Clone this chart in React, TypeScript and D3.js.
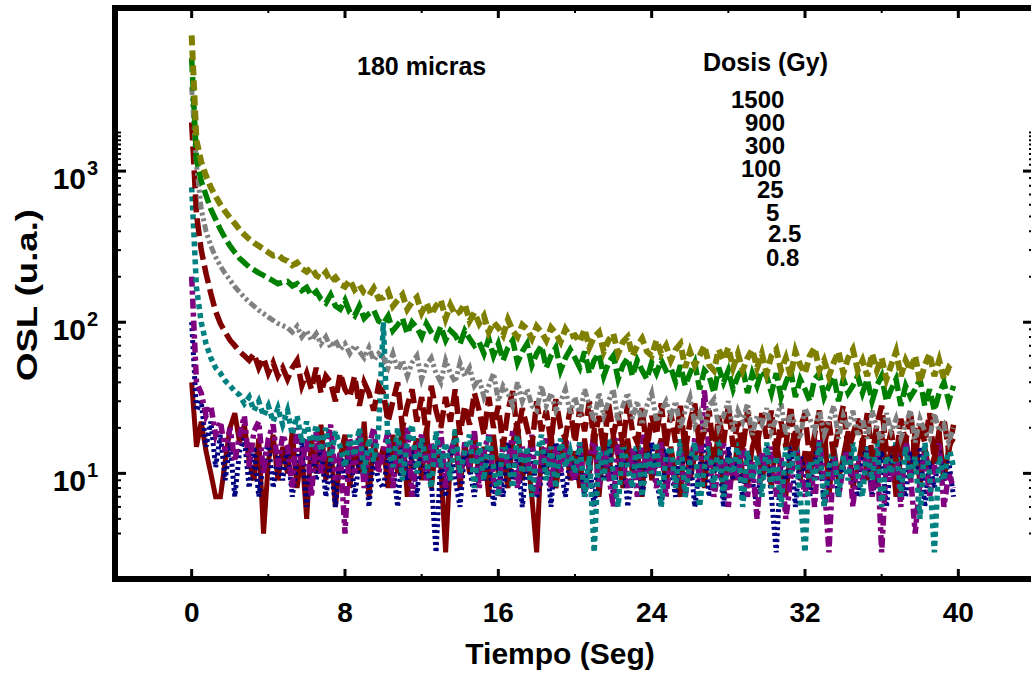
import React from "react";
import * as d3 from "d3";

// sampling interval of the OSL decay curves (s)
const timeStep = 0.25;

// OSL intensity (u.a.) for each dose, one value per time step
const dose1500 = [
  7900, 1600, 1150, 930, 780, 680, 600, 540, 490, 450, 410, 380, 355, 335, 320, 305, 290, 276, 280, 262,
  254, 238, 248, 226, 216, 230, 204, 196, 214, 186, 198, 178, 172, 190, 164, 176, 156, 150, 168, 144,
  146, 160, 128, 140, 152, 122, 136, 146, 116, 134, 112, 128, 140, 106, 130, 112, 118, 132, 102, 116,
  98, 110, 86, 100, 92, 82, 104, 88, 80, 96, 90, 78, 94, 86, 76, 92, 84, 74, 90, 80,
  82, 74, 90, 68, 80, 86, 64, 76, 84, 62, 74, 80, 60, 70, 78, 64, 60, 76, 62, 70,
  56, 66, 72, 50, 64, 52, 60, 70, 52, 48, 66, 56, 68, 50, 62, 48, 58, 66, 50, 62,
  46, 60, 66, 48, 58, 44, 64, 52, 46, 60, 68, 48, 56, 44, 54, 64, 46, 58, 66, 48,
  56, 44, 62, 48, 58, 42, 52, 64, 44, 56, 48, 60, 40, 52, 62, 44, 56, 42, 50, 46,
];
const dose900 = [
  5600, 1200, 860, 690, 560, 480, 410, 360, 320, 290, 265, 248, 232, 222, 212, 204, 196, 188, 180, 184,
  186, 174, 180, 162, 170, 150, 160, 142, 134, 152, 128, 122, 140, 116, 110, 128, 106, 114, 120, 102,
  98, 110, 88, 96, 106, 84, 100, 92, 80, 98, 86, 78, 94, 76, 88, 82, 72, 88, 78, 70,
  74, 62, 78, 60, 72, 56, 68, 76, 54, 64, 72, 52, 62, 70, 50, 60, 68, 48, 58, 66,
  58, 50, 64, 46, 56, 62, 44, 54, 60, 42, 52, 58, 44, 56, 48, 42, 54, 46, 56, 48,
  50, 40, 52, 38, 46, 54, 36, 48, 44, 34, 50, 40, 48, 36, 44, 50, 34, 46, 38, 48,
  44, 34, 46, 32, 40, 48, 32, 42, 36, 30, 42, 46, 32, 38, 44, 30, 42, 34, 38, 44,
  34, 42, 30, 38, 44, 30, 36, 42, 28, 38, 32, 36, 42, 28, 36, 26, 34, 40, 30, 38,
];
const dose300 = [
  3600, 1100, 560, 400, 320, 270, 235, 210, 190, 172, 158, 146, 136, 128, 120, 114, 108, 103, 98, 95,
  92, 86, 94, 80, 88, 76, 84, 72, 80, 68, 76, 66, 72, 62, 70, 64, 58, 68, 56, 62,
  58, 50, 62, 48, 56, 44, 54, 60, 42, 52, 58, 46, 40, 56, 46, 40, 54, 44, 50, 38,
  42, 32, 38, 46, 30, 38, 34, 28, 40, 30, 36, 28, 26, 38, 28, 34, 26, 30, 36, 25,
  32, 24, 36, 28, 22, 34, 24, 30, 36, 22, 28, 34, 23, 30, 21, 28, 34, 22, 26, 30,
  24, 30, 20, 26, 32, 21, 25, 19, 28, 31, 20, 24, 30, 19, 26, 22, 29, 18, 24, 21,
  27, 19, 23, 29, 18, 25, 21, 17, 27, 23, 19, 26, 18, 22, 28, 17, 24, 20, 26, 18,
  23, 17, 26, 20, 16, 25, 19, 23, 17, 21, 26, 16, 23, 19, 17, 25, 19, 21, 16, 20,
];
const dose100 = [
  2100, 520, 300, 210, 155, 118, 98, 86, 76, 70, 64, 60, 56, 62, 50, 58, 46, 54, 44, 50,
  42, 50, 56, 38, 46, 36, 50, 34, 44, 40, 30, 46, 36, 32, 44, 28, 40, 34, 26, 38,
  34, 22, 30, 40, 20, 28, 36, 22, 32, 18, 38, 26, 20, 32, 22, 36, 18, 28, 21, 34,
  26, 18, 32, 20, 28, 15, 26, 35, 18, 27, 20, 15, 30, 19, 26, 16, 31, 20, 17, 27,
  16, 27, 19, 30, 16, 24, 14, 29, 18, 25, 15, 30, 19, 16, 27, 14, 24, 18, 29, 15,
  25, 16, 28, 14, 22, 29, 15, 19, 26, 13, 24, 16, 28, 15, 22, 14, 26, 18, 15, 25,
  17, 26, 13, 22, 15, 28, 14, 20, 25, 12, 18, 26, 15, 22, 13, 20, 28, 14, 18, 23,
  15, 25, 13, 21, 28, 14, 19, 12, 23, 16, 26, 13, 21, 16, 25, 12, 19, 23, 14, 21,
];
const dose25 = [
  780, 170, 100, 72, 58, 50, 46, 41, 38, 35, 33, 29, 32, 26, 30, 24, 28, 22, 27, 21,
  26, 18, 24, 16, 22, 15, 21, 14, 20, 12, 19, 15, 11, 18, 13, 20, 10, 17, 12, 19,
  100, 15, 11, 20, 9, 16, 21, 10, 17, 12, 8, 19, 11, 16, 9, 20, 10, 14, 18, 8,
  16, 9, 18, 11, 7, 17, 12, 8, 19, 10, 15, 7, 13, 18, 9, 15, 8, 17, 11, 14,
  10, 16, 7, 13, 3, 15, 9, 17, 10, 6, 16, 11, 8, 18, 7, 14, 10, 16, 6, 13,
  15, 8, 17, 7, 12, 16, 6, 11, 15, 8, 17, 7, 13, 10, 16, 6, 14, 9, 13, 7,
  16, 8, 13, 6, 15, 10, 17, 7, 3, 13, 9, 16, 6, 11, 15, 7, 13, 9, 16, 10,
  7, 15, 9, 17, 6, 13, 10, 16, 7, 15, 9, 13, 5, 16, 10, 3, 13, 9, 15, 11,
];
const dose5 = [
  200, 40, 34, 24, 28, 18, 22, 14, 20, 12, 18, 24, 11, 19, 22, 10, 17, 21, 11, 18,
  15, 8, 20, 11, 17, 7, 19, 10, 15, 21, 9, 14, 4, 17, 10, 19, 8, 15, 20, 10,
  14, 19, 8, 16, 11, 20, 7, 14, 18, 9, 16, 11, 19, 8, 14, 17, 9, 16, 11, 19,
  8, 14, 18, 9, 7, 16, 11, 19, 8, 15, 10, 18, 7, 12, 17, 8, 15, 10, 18, 11,
  9, 16, 7, 12, 18, 8, 15, 10, 6, 17, 12, 8, 15, 7, 18, 10, 13, 8, 16, 7,
  13, 8, 15, 7, 11, 17, 9, 36, 13, 7, 11, 16, 6, 13, 9, 17, 7, 12, 5, 14,
  10, 15, 7, 13, 5, 9, 16, 11, 7, 14, 6, 17, 9, 3, 14, 7, 11, 16, 6, 13,
  9, 14, 7, 15, 3, 12, 9, 14, 6, 17, 10, 4, 9, 14, 7, 11, 16, 6, 10, 8,
];
const dose2p5 = [
  100, 26, 30, 15, 22, 11, 18, 9, 16, 7, 14, 17, 8, 15, 7, 12, 16, 8, 13, 9,
  15, 7, 12, 16, 6, 13, 9, 15, 7, 12, 6, 14, 9, 16, 7, 12, 15, 6, 13, 9,
  8, 13, 11, 6, 15, 9, 14, 7, 16, 10, 9, 3, 13, 7, 15, 9, 6, 14, 11, 7,
  13, 9, 15, 6, 12, 7, 16, 9, 13, 6, 12, 15, 7, 9, 14, 6, 16, 11, 7, 13,
  9, 15, 7, 12, 6, 14, 9, 16, 7, 12, 15, 6, 10, 14, 7, 12, 16, 9, 6, 13,
  11, 7, 15, 9, 13, 6, 11, 16, 7, 10, 14, 6, 15, 9, 12, 7, 14, 9, 6, 12,
  14, 7, 3, 12, 9, 15, 6, 13, 10, 7, 12, 16, 6, 10, 14, 7, 12, 15, 9, 7,
  12, 15, 7, 10, 14, 6, 12, 16, 9, 7, 14, 10, 15, 6, 12, 8, 14, 9, 12, 7,
];
const dose0p8 = [
  40, 15, 22, 14, 10, 7, 7, 12, 20, 25, 16, 21, 12, 9, 17, 4, 12, 18, 9, 15,
  10, 19, 8, 14, 5, 17, 10, 21, 9, 16, 6, 13, 18, 8, 15, 10, 22, 7, 16, 11,
  15, 8, 18, 10, 21, 7, 13, 17, 9, 20, 8, 15, 11, 3, 13, 18, 8, 16, 10, 19,
  9, 15, 7, 18, 10, 13, 8, 16, 22, 9, 14, 7, 3, 15, 10, 19, 8, 13, 17, 9,
  14, 8, 17, 10, 20, 7, 15, 9, 18, 13, 8, 17, 10, 15, 7, 19, 9, 13, 17, 8,
  15, 10, 7, 19, 9, 13, 17, 8, 16, 10, 21, 7, 14, 9, 17, 10, 8, 15, 19, 9,
  13, 8, 17, 10, 7, 15, 19, 9, 14, 8, 17, 10, 22, 7, 15, 9, 13, 19, 8, 11,
  17, 9, 13, 8, 19, 10, 15, 7, 13, 18, 9, 20, 8, 15, 10, 13, 19, 9, 15, 17,
];

const doseLabels = ["1500", "900", "300", "100", "25", "5", "2.5", "0.8"];
const xTickValues = [0, 8, 16, 24, 32, 40];
const xMinorTickValues = [4, 12, 20, 28, 36];
const yMajorTickValues = [10, 100, 1000];
const yTickExponents = ["1", "2", "3"];
const yMinorTickValues = [
  4, 5, 6, 7, 8, 9, 20, 30, 40, 50, 60, 70, 80, 90,
  200, 300, 400, 500, 600, 700, 800, 900, 1100, 1200, 1300, 1400, 1500, 1600, 1700, 1800,
];

const W = 1031;
const H = 675;
const LEFT = 115;
const RIGHT = 1035;
const TOP = 8;
const BOTTOM = 579;
const FONT = "'Liberation Sans', Arial, Helvetica, sans-serif";

// legend text placement (x start, baseline)
const legendPlacement: [number, number][] = [
  [731, 108], [745, 131], [745, 154], [741, 177], [757, 198], [766, 221], [768, 242], [766, 266],
];

export default function App() {
  const x = d3.scaleLinear().domain([-4, 44]).range([LEFT, RIGHT]);
  const y = d3.scaleLog().domain([2, 12000]).range([BOTTOM, TOP]);
  const line = d3
    .line<number>()
    .x((_, i) => x(i * timeStep))
    .y((d) => y(d));

  const series = [
    { values: dose0p8, color: "#800000", dash: undefined as string | undefined, width: 5 },
    { values: dose2p5, color: "#000080", dash: "3 3", width: 5 },
    { values: dose5, color: "#800080", dash: "10 4 4 4", width: 5.5 },
    { values: dose25, color: "#008080", dash: "5 4", width: 5.5 },
    { values: dose100, color: "#800000", dash: "18 6", width: 5.5 },
    { values: dose300, color: "#808080", dash: "8 3 3 3 3 3", width: 5 },
    { values: dose900, color: "#008000", dash: "14 5", width: 5.5 },
    { values: dose1500, color: "#808000", dash: "10 5", width: 6 },
  ];

  return (
    <svg
      width={W}
      height={H}
      style={{ position: "absolute", left: 0, top: 0, background: "#fff" }}
      fontFamily={FONT}
      fontWeight="bold"
    >
      <rect x={0} y={0} width={W} height={H} fill="#fff" />

      {/* data */}
      {series.map((s, k) => (
        <path
          key={k}
          d={line(s.values) || ""}
          fill="none"
          stroke={s.color}
          strokeWidth={s.width}
          strokeDasharray={s.dash}
          strokeLinejoin="miter"
        />
      ))}

      {/* y ticks left and right */}
      {yMajorTickValues.map((v) => (
        <g key={"ym" + v}>
          <line x1={LEFT} x2={LEFT + 11} y1={y(v)} y2={y(v)} stroke="#000" strokeWidth={3} />
          <line x1={RIGHT} x2={RIGHT - 12} y1={y(v)} y2={y(v)} stroke="#000" strokeWidth={3} />
        </g>
      ))}
      {yMinorTickValues.map((v) => (
        <g key={"yn" + v}>
          <line x1={LEFT} x2={LEFT + 6} y1={y(v)} y2={y(v)} stroke="#000" strokeWidth={2} />
          <line x1={RIGHT} x2={RIGHT - 6} y1={y(v)} y2={y(v)} stroke="#000" strokeWidth={2} />
        </g>
      ))}

      {/* x ticks bottom and top */}
      {xTickValues.map((v) => (
        <g key={"xm" + v}>
          <line x1={x(v)} x2={x(v)} y1={BOTTOM} y2={BOTTOM - 10} stroke="#000" strokeWidth={3} />
          <line x1={x(v)} x2={x(v)} y1={TOP} y2={TOP + 10} stroke="#000" strokeWidth={3} />
        </g>
      ))}
      {xMinorTickValues.map((v) => (
        <g key={"xn" + v}>
          <line x1={x(v)} x2={x(v)} y1={BOTTOM} y2={BOTTOM - 5} stroke="#000" strokeWidth={2} />
          <line x1={x(v)} x2={x(v)} y1={TOP} y2={TOP + 5} stroke="#000" strokeWidth={2} />
        </g>
      ))}

      {/* frame */}
      <rect
        x={LEFT}
        y={TOP}
        width={RIGHT - LEFT}
        height={BOTTOM - TOP}
        fill="none"
        stroke="#000"
        strokeWidth={6}
      />

      {/* x tick labels */}
      {xTickValues.map((v) => (
        <text key={"xl" + v} x={x(v)} y={622} textAnchor="middle" fontSize={28} fill="#000">
          {v}
        </text>
      ))}

      {/* y tick labels */}
      {yMajorTickValues.map((v, i) => (
        <g key={"yl" + v}>
          <text x={86} y={y(v) + 18} textAnchor="end" fontSize={30} fill="#000">
            10
          </text>
          <text x={87} y={y(v) + 4} textAnchor="start" fontSize={20} fill="#000">
            {yTickExponents[i]}
          </text>
        </g>
      ))}

      {/* axis titles */}
      <text x={560} y={664} textAnchor="middle" fontSize={30} fill="#000">
        Tiempo (Seg)
      </text>
      <text
        transform="translate(37,295) rotate(-90)"
        textAnchor="middle"
        fontSize={30}
        textLength={172}
        lengthAdjust="spacingAndGlyphs"
        fill="#000"
      >
        OSL (u.a.)
      </text>

      {/* annotations */}
      <text x={357} y={75} fontSize={25} fill="#000">
        180 micras
      </text>
      <text x={703} y={71} fontSize={25} fill="#000">
        Dosis (Gy)
      </text>
      {doseLabels.map((lab, i) => (
        <text key={lab} x={legendPlacement[i][0]} y={legendPlacement[i][1]} fontSize={24} fill="#000">
          {lab}
        </text>
      ))}
    </svg>
  );
}
